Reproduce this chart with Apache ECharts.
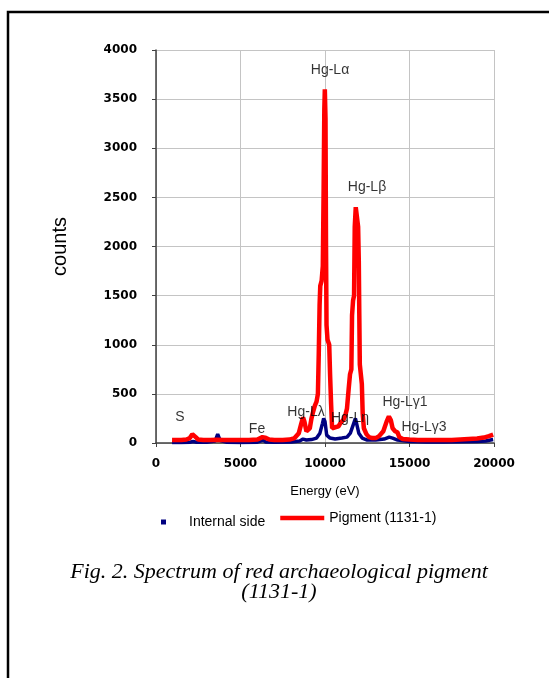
<!DOCTYPE html>
<html>
<head>
<meta charset="utf-8">
<script src="https://cdn.jsdelivr.net/npm/echarts@6/dist/echarts.min.js"></script>
<style>
  html, body { margin: 0; padding: 0; background: #fff; }
  #chart { width: 549px; height: 678px; }
</style>
</head>
<body>
<div id="chart"></div>
<script>
'use strict';
// Pigment (1131-1) spectrum
var pigmentEnergy = [950, 1200, 1500, 1800, 2000, 2150, 2250, 2350, 2500, 2800, 3200, 3600, 4000, 4500, 5000, 5500, 6000, 6300, 6450, 6700,
  7000, 7500, 7900, 8200, 8450, 8600, 8700, 8780, 8900, 9000, 9100, 9200, 9300, 9400, 9500, 9580, 9630, 9680, 9720, 9800,
  9870, 9920, 9960, 9990, 10030, 10060, 10090, 10150, 10250, 10300, 10360, 10420, 10500, 10600, 10700, 10800, 10900, 11000, 11100, 11200,
  11300, 11400, 11480, 11560, 11600, 11660, 11720, 11760, 11820, 11900, 11960, 12000, 12030, 12060, 12120, 12180, 12230, 12300, 12450, 12600,
  12800, 13000, 13200, 13450, 13650, 13780, 13900, 14000, 14150, 14280, 14400, 14600, 15000, 15500, 16000, 16500, 17000, 17500, 18000, 18500,
  19000, 19400, 19700, 19950];
var pigmentCounts = [30, 30, 30, 35, 50, 90, 100, 60, 35, 30, 30, 32, 30, 30, 30, 30, 35, 60, 55, 35,
  30, 30, 35, 50, 100, 200, 260, 220, 120, 100, 150, 250, 320, 380, 420, 500, 900, 1400, 1600, 1650,
  1800, 2600, 3400, 3600, 3300, 2000, 1200, 1050, 1000, 700, 400, 150, 130, 160, 140, 170, 200, 220, 240, 280,
  350, 550, 700, 750, 1300, 1450, 1500, 2200, 2400, 2380, 2200, 1850, 1300, 800, 700, 600, 300, 150, 90, 60,
  50, 50, 70, 120, 220, 270, 230, 150, 120, 110, 60, 40, 35, 30, 30, 30, 30, 30, 35, 40,
  45, 55, 70, 85];

// Internal side spectrum
var internalEnergy = [950, 1500, 2000, 2200, 2400, 3000, 3500, 3650, 3800, 4200, 5000, 6000, 6350, 6500, 7000, 8000, 8500, 8700, 8900, 9200,
  9500, 9700, 9850, 9920, 10000, 10100, 10300, 10600, 11000, 11300, 11500, 11700, 11800, 11880, 12000, 12200, 12500, 13000, 13500, 13800,
  14000, 14300, 15000, 16000, 17000, 18000, 19000, 19500, 19950];
var internalCounts = [5, 5, 8, 15, 8, 8, 20, 90, 25, 8, 5, 8, 30, 10, 8, 10, 20, 40, 30, 35,
  50, 100, 200, 250, 220, 80, 50, 40, 50, 60, 100, 200, 250, 230, 100, 50, 30, 30, 40, 60,
  50, 30, 15, 10, 10, 12, 15, 20, 35];

// peak labels
var peakNames = ['Hg-L\u03b1', 'Hg-L\u03b2', 'S', 'Fe', 'Hg-L\u03bb', 'Hg-L\u03b7', 'Hg-L\u03b31', 'Hg-L\u03b33'];
var peakX = [10296, 12485, 1420, 5976, 8876, 11479, 14734, 15858];
var peakY = [3797, 2606, 265, 143, 316, 254, 417, 163];

var xTicks = { min: 0, max: 20000, interval: 5000 };
var yTicks = { min: 0, max: 4000, interval: 500 };

function pairs(xs, ys) {
  return xs.map(function (x, i) { return [x, ys[i]]; });
}
function plain(v) { return String(v); }

var chart = echarts.init(document.getElementById('chart'));
var option = {
  animation: false,
  title: {
    text: 'Fig. 2. Spectrum of red archaeological pigment\n(1131-1)',
    left: 274,
    top: 557,
    textAlign: 'center',
    textStyle: {
      fontFamily: 'Liberation Serif',
      fontStyle: 'italic',
      fontWeight: 'normal',
      fontSize: 22,
      lineHeight: 20,
      color: '#000'
    }
  },
  graphic: [{
    type: 'polyline',
    shape: { points: [[8, 678], [8, 12], [549, 12]] },
    style: { stroke: '#000', lineWidth: 2.5, fill: null }
  }],
  legend: [{
    data: [{ name: 'Internal side', icon: 'rect' }],
    left: 156,
    top: 510,
    itemWidth: 5,
    itemHeight: 5,
    textStyle: { fontFamily: 'Liberation Sans', fontSize: 14, color: '#000', padding: [0, 0, 0, 18] }
  }, {
    data: ['Pigment (1131-1)'],
    left: 273,
    top: 506,
    itemWidth: 44,
    itemHeight: 14,
    itemStyle: { opacity: 0 },
    lineStyle: { width: 4.5, color: '#ff0000' },
    textStyle: { fontFamily: 'Liberation Sans', fontSize: 14, color: '#000' }
  }],
  grid: { left: 156, right: 55, top: 50, bottom: 235, containLabel: false },
  xAxis: {
    type: 'value',
    min: xTicks.min, max: xTicks.max, interval: xTicks.interval,
    name: 'Energy (eV)',
    nameLocation: 'middle',
    nameGap: 42,
    nameTextStyle: { fontFamily: 'Liberation Sans', fontSize: 13, color: '#000' },
    axisLine: { lineStyle: { color: '#404040', width: 1.5 } },
    axisTick: { show: true, length: 4, lineStyle: { color: '#404040' } },
    axisLabel: { margin: 15, formatter: plain, fontFamily: 'DejaVu Sans', fontWeight: 'bold', fontSize: 12, color: '#000' },
    splitLine: { show: true, lineStyle: { color: '#c4c4c4', width: 1 } }
  },
  yAxis: {
    type: 'value',
    min: yTicks.min, max: yTicks.max, interval: yTicks.interval,
    name: 'counts',
    nameLocation: 'middle',
    nameRotate: 90,
    nameGap: 86,
    nameTextStyle: { fontFamily: 'Liberation Sans', fontSize: 20, color: '#000' },
    axisLine: { show: true, lineStyle: { color: '#404040', width: 1.5 } },
    axisTick: { show: true, length: 4, lineStyle: { color: '#404040' } },
    axisLabel: { margin: 19, formatter: plain, fontFamily: 'DejaVu Sans', fontWeight: 'bold', fontSize: 12, color: '#000' },
    splitLine: { show: true, lineStyle: { color: '#c4c4c4', width: 1 } }
  },
  series: [{
    name: 'Internal side',
    type: 'line',
    data: pairs(internalEnergy, internalCounts),
    showSymbol: false,
    symbol: 'rect',
    color: '#000080',
    lineStyle: { color: '#000080', width: 3.5 },
    z: 2
  }, {
    name: 'Pigment (1131-1)',
    type: 'line',
    data: pairs(pigmentEnergy, pigmentCounts),
    showSymbol: false,
    symbol: 'none',
    color: '#ff0000',
    lineStyle: { color: '#ff0000', width: 4.5 },
    z: 3
  }, {
    name: 'peaks',
    type: 'scatter',
    silent: true,
    symbolSize: 1,
    itemStyle: { color: 'rgba(0,0,0,0)' },
    data: peakNames.map(function (n, i) { return { name: n, value: [peakX[i], peakY[i]] }; }),
    label: {
      show: true,
      position: 'inside',
      formatter: '{b}',
      fontFamily: 'Liberation Sans',
      fontSize: 14,
      color: '#000',
      textBorderWidth: 0
    },
    z: 4
  }]
};
chart.setOption(option);
</script>
</body>
</html>
